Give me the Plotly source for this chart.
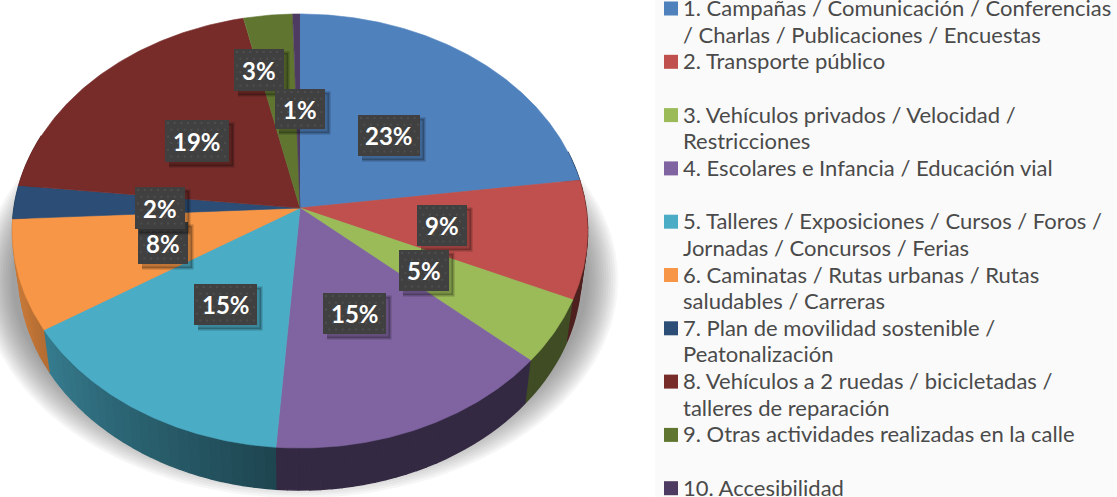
import numpy as np
import plotly.graph_objects as go

# ---- data ----
CATEGORIES = [
    "1. Campañas / Comunicación / Conferencias<br>/ Charlas / Publicaciones / Encuestas",
    "2. Transporte público",
    "3. Vehículos privados / Velocidad /<br>Restricciones",
    "4. Escolares e Infancia / Educación vial",
    "5. Talleres / Exposiciones / Cursos / Foros /<br>Jornadas / Concursos / Ferias",
    "6. Caminatas / Rutas urbanas / Rutas<br>saludables / Carreras",
    "7. Plan de movilidad sostenible /<br>Peatonalización",
    "8. Vehículos a 2 ruedas / bicicletadas /<br>talleres de reparación",
    "9. Otras actividades realizadas en la calle",
    "10. Accesibilidad",
]
VALUES = [22.9, 8.8, 4.8, 14.7, 14.8, 8.2, 2.5, 19.8, 3.05, 0.45]
PERCENT_LABELS = ["23%", "9%", "5%", "15%", "15%", "8%", "2%", "19%", "3%", "1%"]

# ---- style ----
COLORS = ["#4F81BD", "#C0504D", "#9BBB59", "#8064A2", "#4BACC6",
          "#F79646", "#2C4D75", "#772C2A", "#5F7530", "#4D3B62"]
W, H = 1117, 497
CX, CY, RX, RY, K = 300, 208, 286, 214.6, 0.106
DEPTH, BOTTOM_SCALE = 42, 0.978
# label boxes: left, top, right, bottom in the order of the slices
BOXES = [(358, 115, 420, 156), (417, 205, 467, 246), (399, 250, 449, 291),
         (323, 293, 386, 334), (194, 284, 257, 325), (138, 222, 188, 264),
         (135, 187, 185, 229), (165, 120, 229, 162), (234, 49, 284, 91),
         (275, 89, 325, 129)]
BOX_ORDER = [0, 1, 2, 3, 4, 5, 6, 7, 8, 9]


def rim(t):
    d = 1 + K * np.cos(t)
    return RX * np.sin(t) / d, -RY * np.cos(t) / d


def side_factor(deg):
    return float(np.interp(deg, [0, 185, 250, 360], [0.41, 0.41, 0.8, 0.8]))


def shade(hexcol, f):
    r, g, b = (int(hexcol[i:i + 2], 16) for i in (1, 3, 5))
    return f"rgb({int(r * f)},{int(g * f)},{int(b * f)})"


fig = go.Figure()


def poly(xs, ys, color, lw=0.6):
    fig.add_trace(go.Scatter(x=xs, y=ys, mode="lines", fill="toself", fillcolor=color,
                             line=dict(color=color, width=lw),
                             hoverinfo="skip", showlegend=False))


# legend backdrop
poly([655, W, W, 655], [0, 0, H, H], "#FAFAFA", lw=0)

# soft shadow below the pie
tt = np.linspace(0, 2 * np.pi, 181)
for i in range(14):
    s = i / 13
    poly(300 + (318 - 30 * s) * np.cos(tt), 280 + (218 - 32 * s) * np.sin(tt),
         "rgba(90,90,90,0.055)", lw=0)

fractions = np.cumsum([0] + VALUES) / sum(VALUES)
starts, ends = fractions[:-1] * 2 * np.pi, fractions[1:] * 2 * np.pi

# side wall
for i in range(len(VALUES)):
    a, b = starts[i], ends[i]
    n = max(2, int(np.degrees(b - a) / 2))
    edges = np.linspace(a, b, n + 1)
    for p, q in zip(edges[:-1], edges[1:]):
        if np.degrees(q) < 75 or np.degrees(p) > 290:
            continue
        seg = np.linspace(p, q, 5)
        dx, dy = rim(seg)
        xs = np.r_[CX + dx, CX + dx[::-1] * BOTTOM_SCALE]
        ys = np.r_[CY + dy, CY + dy[::-1] + DEPTH]
        poly(xs, ys, shade(COLORS[i], side_factor(np.degrees((p + q) / 2))), lw=1.4)

# top faces
for i in range(len(VALUES)):
    seg = np.linspace(starts[i], ends[i], max(6, int(VALUES[i] * 8)))
    dx, dy = rim(seg)
    poly(np.r_[CX, CX + dx], np.r_[CY, CY + dy], COLORS[i])

# label boxes
for i in BOX_ORDER:
    l, t, r, b = BOXES[i]
    poly([l + 4, r + 4, r + 4, l + 4], [t + 4, t + 4, b + 4, b + 4], "rgba(0,0,0,0.22)", lw=3)
    poly([l, r, r, l], [t, t, b, b], "#404040", lw=0)
    dot_x, dot_y = [], []
    for row, yy in enumerate(np.arange(t + 3, b, 6.7)):
        for xx in np.arange(l + 3 + (row % 2) * 3.3, r - 1, 6.7):
            dot_x.append(xx)
            dot_y.append(yy)
    fig.add_trace(go.Scatter(x=dot_x, y=dot_y, mode="markers", hoverinfo="skip", showlegend=False,
                             marker=dict(symbol="square", size=2, color="#4E4E4E", line_width=0)))
    fig.add_annotation(x=(l + r) / 2, y=(t + b) / 2, text=f"<b>{PERCENT_LABELS[i]}</b>",
                       showarrow=False, font=dict(family="Lato", size=24, color="white"))

# legend
for i, name in enumerate(CATEGORIES):
    y0 = 7.5 + 53.3 * i
    fig.add_trace(go.Scatter(x=[671], y=[y0 + 1], mode="markers", hoverinfo="skip", showlegend=False,
                             marker=dict(symbol="square", size=14, color=COLORS[i], line_width=0)))
    for j, line in enumerate(name.split("<br>")):
        fig.add_annotation(x=683 / W, y=1 - (y0 + 26.7 * j) / H, xref="paper", yref="paper",
                           xanchor="left", yanchor="middle", align="left",
                           text=line, showarrow=False, borderpad=0, borderwidth=0,
                           font=dict(family="Lato", size=22, color="#4A4A4A"))

fig.update_layout(width=W, height=H, margin=dict(l=0, r=0, t=0, b=0), autosize=False,
                  paper_bgcolor="white", plot_bgcolor="white", showlegend=False,
                  xaxis=dict(range=[0, W], visible=False, fixedrange=True),
                  yaxis=dict(range=[H, 0], visible=False, fixedrange=True))
fig.write_html("out.html", config=dict(displayModeBar=False),
               post_script="document.body.style.margin='0';document.documentElement.style.overflow='hidden';")
